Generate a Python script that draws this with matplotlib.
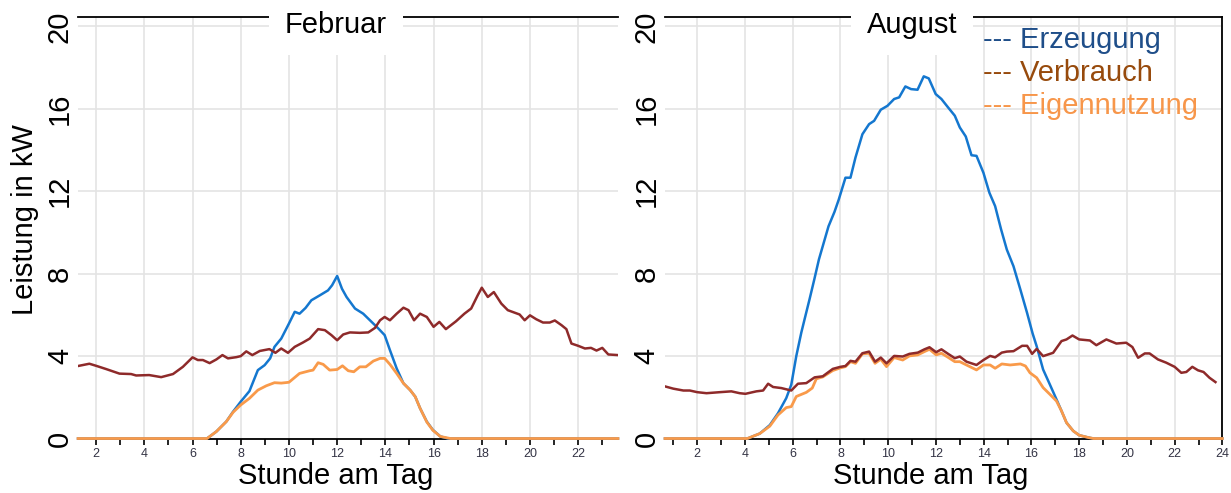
import matplotlib
matplotlib.use("Agg")
import matplotlib.pyplot as plt
from matplotlib.ticker import MultipleLocator

plt.rcParams['font.family'] = ['Liberation Sans', 'DejaVu Sans']

# Februar
feb_verbrauch_h = [1.25, 1.72, 2.0, 2.42, 2.97, 3.45, 3.66, 4.2, 4.7, 5.19, 5.6, 6.0, 6.22, 6.43,
                   6.71, 6.99, 7.24, 7.47, 7.82, 8.0, 8.23, 8.48, 8.79, 9.19, 9.44, 9.68, 9.96,
                   10.24, 10.58, 10.86, 11.21, 11.49, 11.76, 12.0, 12.25, 12.53, 12.94, 13.29,
                   13.57, 13.78, 13.97, 14.19, 14.47, 14.75, 14.96, 15.19, 15.44, 15.72, 16.0,
                   16.24, 16.51, 16.93, 17.28, 17.56, 17.83, 18.0, 18.25, 18.5, 18.81, 19.08,
                   19.57, 19.78, 20.0, 20.26, 20.54, 20.82, 21.03, 21.31, 21.51, 21.72, 22.0,
                   22.28, 22.53, 22.76, 23.0, 23.25, 23.65]
feb_verbrauch = [3.52, 3.63, 3.53, 3.37, 3.15, 3.13, 3.06, 3.08, 2.98, 3.13, 3.48, 3.94, 3.81, 3.81,
                 3.66, 3.84, 4.05, 3.89, 3.95, 4.0, 4.23, 4.05, 4.25, 4.34, 4.16, 4.37, 4.16,
                 4.45, 4.66, 4.85, 5.31, 5.26, 5.02, 4.77, 5.05, 5.15, 5.13, 5.15,
                 5.37, 5.74, 5.9, 5.74, 6.06, 6.35, 6.23, 5.74, 6.06, 5.9, 5.42,
                 5.66, 5.31, 5.69, 6.06, 6.31, 6.95, 7.32, 6.87, 7.11, 6.55, 6.23,
                 6.02, 5.74, 5.98, 5.79, 5.63, 5.63, 5.73, 5.5, 5.31, 4.61, 4.5,
                 4.37, 4.4, 4.27, 4.4, 4.08, 4.05]

feb_erzeugung_h = [1.25, 6.6, 6.99, 7.4, 7.68, 8.0, 8.36, 8.71, 8.99, 9.22, 9.4, 9.68, 10.0, 10.24,
                   10.44, 10.69, 10.93, 11.28, 11.62, 11.79, 12.0, 12.2, 12.39, 12.74, 13.08,
                   13.36, 13.71, 13.97, 14.19, 14.47, 14.75, 15.03, 15.24, 15.44, 15.72, 15.97,
                   16.28, 16.6, 23.65]
feb_erzeugung = [0, 0, 0.34, 0.82, 1.3, 1.79, 2.3, 3.32, 3.56, 3.89, 4.45, 4.85, 5.58, 6.15,
                 6.06, 6.34, 6.71, 6.95, 7.19, 7.44, 7.89, 7.27, 6.87, 6.31, 6.06,
                 5.74, 5.34, 5.02, 4.29, 3.4, 2.68, 2.35, 2.03, 1.47, 0.82, 0.42,
                 0.1, 0, 0]

feb_eigen_h = [1.25, 6.6, 6.99, 7.4, 7.68, 8.0, 8.36, 8.71, 9.06, 9.4, 9.68, 10.0, 10.44, 10.86,
               11.0, 11.21, 11.42, 11.69, 12.0, 12.22, 12.46, 12.69, 12.94, 13.19, 13.5, 13.78,
               13.97, 14.19, 14.47, 14.75, 15.03, 15.24, 15.44, 15.72, 15.97, 16.28, 16.7, 23.65]
feb_eigen = [0, 0, 0.34, 0.82, 1.27, 1.63, 1.95, 2.35, 2.56, 2.71, 2.69, 2.73, 3.16, 3.29,
             3.32, 3.68, 3.6, 3.32, 3.35, 3.53, 3.29, 3.24, 3.48, 3.48, 3.76, 3.89,
             3.89, 3.6, 3.16, 2.68, 2.35, 2.03, 1.47, 0.8, 0.4, 0.1, 0, 0]

# August
aug_verbrauch_h = [0.65, 1.0, 1.42, 1.69, 2.0, 2.39, 2.95, 3.43, 3.78, 4.02, 4.48, 4.76, 4.97, 5.18,
                   5.52, 5.94, 6.22, 6.57, 6.92, 7.26, 7.68, 8.0, 8.21, 8.42, 8.63, 8.92, 9.2,
                   9.45, 9.69, 9.93, 10.25, 10.61, 10.89, 11.24, 11.52, 11.73, 12.01, 12.23,
                   12.51, 12.79, 13.0, 13.28, 13.7, 13.99, 14.27, 14.48, 14.76, 14.97, 15.25,
                   15.61, 15.82, 16.03, 16.22, 16.49, 16.91, 17.26, 17.47, 17.72, 18.0, 18.45,
                   18.72, 19.14, 19.56, 19.97, 20.23, 20.47, 20.75, 20.95, 21.3, 21.65, 22.0,
                   22.28, 22.49, 22.74, 22.98, 23.21, 23.46, 23.71]
aug_verbrauch = [2.53, 2.42, 2.33, 2.33, 2.25, 2.2, 2.25, 2.29, 2.2, 2.17, 2.29, 2.33, 2.66, 2.5,
                 2.45, 2.33, 2.66, 2.69, 2.97, 3.02, 3.38, 3.48, 3.52, 3.77, 3.73, 4.14, 4.22,
                 3.73, 3.93, 3.65, 4.01, 3.98, 4.11, 4.17, 4.33, 4.43, 4.19, 4.33,
                 4.11, 3.9, 3.98, 3.73, 3.57, 3.81, 4.01, 3.94, 4.17, 4.22, 4.24,
                 4.5, 4.5, 4.11, 4.35, 4.0, 4.16, 4.73, 4.81, 5.0, 4.81, 4.76,
                 4.53, 4.81, 4.61, 4.65, 4.44, 3.92, 4.13, 4.13, 3.84, 3.68, 3.48,
                 3.19, 3.23, 3.48, 3.31, 3.23, 2.95, 2.74]

aug_erzeugung_h = [0.65, 4.1, 4.62, 5.04, 5.38, 5.73, 5.94, 6.15, 6.36, 6.5, 6.71, 6.9, 7.1, 7.3,
                   7.5, 7.75, 7.93, 8.21, 8.42, 8.63, 8.92, 9.2, 9.41, 9.69, 9.97, 10.25, 10.46,
                   10.72, 10.96, 11.23, 11.49, 11.7, 11.99, 12.23, 12.51, 12.79, 13.0, 13.25,
                   13.49, 13.7, 13.99, 14.24, 14.48, 14.73, 14.97, 15.25, 15.54, 15.82, 16.05,
                   16.22, 16.49, 16.77, 17.05, 17.26, 17.47, 17.75, 18.0, 18.38, 18.6, 24.0]
aug_erzeugung = [0, 0, 0.24, 0.65, 1.22, 1.96, 2.61, 4.0, 5.14, 5.8, 6.78, 7.7, 8.7, 9.5,
                 10.3, 11.0, 11.6, 12.66, 12.66, 13.64, 14.77, 15.26, 15.42, 15.96, 16.15, 16.48, 16.56,
                 17.09, 16.96, 16.93, 17.58, 17.48, 16.72, 16.48, 16.07, 15.67, 15.1, 14.66,
                 13.75, 13.72, 12.9, 11.93, 11.28, 10.15, 9.17, 8.36, 7.22, 6.09, 5.1,
                 4.48, 3.35, 2.63, 1.9, 1.34, 0.77, 0.37, 0.16, 0.05, 0, 0]

aug_eigen_h = [0.65, 4.1, 4.62, 5.04, 5.38, 5.73, 5.94, 6.15, 6.57, 6.82, 6.99, 7.26, 7.68, 8.0,
               8.21, 8.42, 8.63, 8.92, 9.2, 9.45, 9.69, 9.93, 10.25, 10.61, 10.89, 11.24, 11.52,
               11.73, 12.01, 12.23, 12.51, 12.79, 13.0, 13.28, 13.7, 13.99, 14.27, 14.48, 14.76,
               15.11, 15.54, 15.75, 15.94, 16.22, 16.49, 16.77, 17.05, 17.26, 17.47, 17.75, 18.0,
               18.38, 18.6, 24.0]
aug_eigen = [0, 0, 0.24, 0.6, 1.14, 1.5, 1.55, 2.04, 2.24, 2.45, 2.9, 2.99, 3.3, 3.43,
             3.49, 3.73, 3.65, 4.11, 4.14, 3.65, 3.85, 3.49, 3.93, 3.81, 4.01, 4.06, 4.22,
             4.33, 4.06, 4.14, 3.94, 3.73, 3.73, 3.57, 3.33, 3.57, 3.57, 3.41, 3.62,
             3.57, 3.62, 3.52, 3.19, 2.95, 2.47, 2.15, 1.82, 1.34, 0.77, 0.37, 0.16,
             0.05, 0, 0]

series_names = ["Erzeugung", "Verbrauch", "Eigennutzung"]
line_colors = ["#1477cf", "#8e2a2a", "#f99a4a"]
legend_colors = ["#1f4e89", "#974a0c", "#f7964a"]

fig = plt.figure(figsize=(12.31, 4.93), dpi=100)
ax1 = fig.add_axes([0.0634, 0.1105, 0.4386, 0.855])
ax2 = fig.add_axes([0.5402, 0.1105, 0.4528, 0.855])


def style_axes(ax, xlim, xmax_tick, title, title_x, right_spine):
    ax.set_xlim(*xlim)
    ax.set_ylim(0, 20.46)
    ax.set_yticks([0, 4, 8, 12, 16, 20])
    ax.set_xticks(range(2, xmax_tick + 1, 2))
    ax.xaxis.set_minor_locator(MultipleLocator(1))
    ax.grid(True, which='major', color='#e4e4e4', lw=1.2)
    ax.set_axisbelow(True)
    ax.spines['left'].set_visible(False)
    ax.spines['right'].set_visible(right_spine)
    ax.spines['top'].set_linewidth(1.3)
    ax.spines['bottom'].set_linewidth(1.3)
    ax.spines['right'].set_linewidth(1.3)
    ax.tick_params(axis='y', length=0, pad=3, labelsize=21, labelrotation=90)
    for lab in ax.get_yticklabels():
        lab.set_va('center')
    ax.tick_params(axis='x', which='both', length=4, width=1.2, color='black',
                   labelsize=9, labelcolor='#333344', pad=3)
    ax.set_xlabel("Stunde am Tag", fontsize=21)
    ax.xaxis.set_label_coords(0.477, -0.055)
    ax.text(title_x, 0.981, title, transform=ax.transAxes, fontsize=21,
            ha='center', va='center', zorder=5,
            bbox=dict(boxstyle='square,pad=0.55', facecolor='white', edgecolor='none'))


style_axes(ax1, (1.25, 23.65), 22, "Februar", 0.478, False)
style_axes(ax2, (0.65, 24.0), 24, "August", 0.443, True)

ax1.plot(feb_erzeugung_h, feb_erzeugung, color=line_colors[0], lw=1.8, clip_on=False, zorder=3)
ax1.plot(feb_eigen_h, feb_eigen, color=line_colors[2], lw=2.0, clip_on=False, zorder=3)
ax1.plot(feb_verbrauch_h, feb_verbrauch, color=line_colors[1], lw=1.8, zorder=3)

ax2.plot(aug_erzeugung_h, aug_erzeugung, color=line_colors[0], lw=1.8, clip_on=False, zorder=3)
ax2.plot(aug_eigen_h, aug_eigen, color=line_colors[2], lw=2.0, clip_on=False, zorder=3)
ax2.plot(aug_verbrauch_h, aug_verbrauch, color=line_colors[1], lw=1.8, zorder=3)

# legend as coloured text
for i, name in enumerate(series_names):
    ax2.text(0.570, 0.945 - i * 0.078, "--- " + name, transform=ax2.transAxes,
             fontsize=21, color=legend_colors[i], ha='left', va='center')

fig.text(25 / 1231, 0.554, "Leistung in kW", rotation=90, fontsize=21,
         ha='center', va='center')

fig.savefig("out.png", dpi=100)
